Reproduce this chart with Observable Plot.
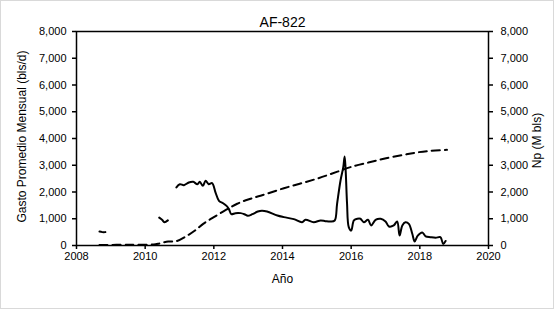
<!DOCTYPE html>
<html>
<head>
<meta charset="utf-8">
<script src="https://cdn.jsdelivr.net/npm/d3@7"></script>
<script src="https://cdn.jsdelivr.net/npm/@observablehq/plot@0.6"></script>
<style>
  html, body { margin: 0; padding: 0; background: #fff; }
  #wrap { position: relative; width: 554px; height: 309px; overflow: hidden; }
  #border { position: absolute; left: 0; top: 0; width: 554px; height: 309px; box-sizing: border-box; border: 1px solid #d9d9d9; pointer-events: none; }
</style>
</head>
<body>
<div id="wrap"><div id="chart"></div><div id="border"></div></div>
<script>
const title = "AF-822";
const xLabel = "Año";
const yLeftLabel = "Gasto Promedio Mensual (bls/d)";
const yRightLabel = "Np (M bls)";
const xTicks = [2008, 2010, 2012, 2014, 2016, 2018, 2020];
const yTicks = [0, 1000, 2000, 3000, 4000, 5000, 6000, 7000, 8000];

// Monthly average rate (bls/d); null marks a gap in production
const rateYears = [2008.67, 2008.75, 2008.84, 2009.5,
  2010.41, 2010.50, 2010.56, 2010.66, 2010.80,
  2010.91, 2011.01, 2011.13, 2011.27, 2011.40, 2011.52, 2011.59, 2011.68, 2011.76, 2011.85, 2011.95,
  2012.05, 2012.15, 2012.27, 2012.37, 2012.44, 2012.51, 2012.63, 2012.78, 2012.89, 2012.99,
  2013.12, 2013.28, 2013.40, 2013.55, 2013.85, 2014.04, 2014.33, 2014.57, 2014.67, 2014.91,
  2015.11, 2015.25, 2015.40, 2015.52, 2015.59, 2015.69, 2015.77, 2015.81, 2015.84, 2015.88, 2015.93,
  2016.00, 2016.08, 2016.18, 2016.27, 2016.37, 2016.49, 2016.58, 2016.71, 2016.86, 2017.00,
  2017.10, 2017.24, 2017.34, 2017.41, 2017.49, 2017.58, 2017.68, 2017.78, 2017.85, 2017.94,
  2018.07, 2018.17, 2018.31, 2018.46, 2018.60, 2018.68, 2018.75];
const rateValues = [520, 500, 500, null,
  1040, 950, 870, 940, null,
  2170, 2290, 2255, 2355, 2380, 2290, 2380, 2230, 2420, 2290, 2330,
  1980, 1670, 1580, 1480, 1360, 1170, 1210, 1210, 1170, 1110,
  1170, 1270, 1300, 1270, 1120, 1060, 985, 870, 960, 870,
  935, 910, 895, 935, 1560, 2430, 2930, 3330, 2800, 1570, 690,
  560, 935, 1000, 1000, 870, 960, 750, 960, 1000, 900,
  710, 750, 900, 370, 750, 870, 810, 440, 150, 370,
  490, 340, 310, 290, 310, 60, 170];

// Cumulative production (M bls)
const cumYears = [2008.67, 2009.5, 2010.30, 2010.42, 2010.67, 2010.90, 2011.20, 2011.45, 2011.70,
  2012.00, 2012.35, 2012.68, 2013.00, 2013.36, 2014.04, 2015.01, 2015.60, 2015.98,
  2016.50, 2016.95, 2017.50, 2017.92, 2018.30, 2018.79];
const cumValues = [15, 30, 45, 80, 150, 160, 350, 560, 820,
  1060, 1330, 1560, 1720, 1860, 2140, 2500, 2760, 2930,
  3100, 3240, 3380, 3480, 3540, 3575];

const rate = rateYears.map((x, i) => ({x, y: rateValues[i]}));
const cum = cumYears.map((x, i) => ({x, y: cumValues[i]}));

const chart = Plot.plot({
  width: 554,
  height: 309,
  marginLeft: 76,
  marginRight: 66,
  marginTop: 31,
  marginBottom: 64,
  style: {fontFamily: "'Liberation Sans', Arial, sans-serif", fontSize: "11px", color: "#000", background: "transparent"},
  x: {domain: [2008, 2020]},
  y: {domain: [0, 8000]},
  marks: [
    Plot.line(cum, {x: "x", y: "y", stroke: "black", strokeWidth: 2, strokeDasharray: "8,5", curve: "catmull-rom"}),
    Plot.line(rate, {x: "x", y: "y", stroke: "black", strokeWidth: 2, curve: "catmull-rom"}),
    Plot.frame({stroke: "black", strokeWidth: 1.5}),
    Plot.axisY({ticks: yTicks, tickFormat: d3.format(","), tickSize: 4, tickPadding: 6, label: null, strokeWidth: 1.5}),
    Plot.axisY({anchor: "right", ticks: yTicks, tickFormat: d3.format(","), tickSize: 4, tickPadding: 8, label: null, strokeWidth: 1.5}),
    Plot.axisX({ticks: xTicks, tickFormat: d => String(d), tickSize: 4, tickPadding: 3, label: null, strokeWidth: 1.5}),
    Plot.text([title], {frameAnchor: "top", dy: -14, fontSize: 14}),
    Plot.text([xLabel], {frameAnchor: "bottom", dy: 37, fontSize: 12}),
    Plot.text([yLeftLabel], {frameAnchor: "left", dx: -54, dy: -2, rotate: -90, textAnchor: "middle", fontSize: 12}),
    Plot.text([yRightLabel], {frameAnchor: "right", dx: 49, dy: 2, rotate: -90, textAnchor: "middle", fontSize: 12})
  ]
});
document.getElementById("chart").appendChild(chart);
</script>
</body>
</html>
